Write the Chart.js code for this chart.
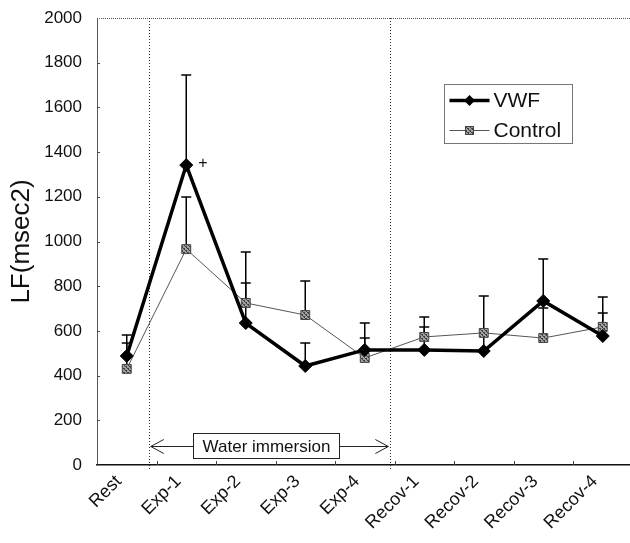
<!DOCTYPE html>
<html>
<head>
<meta charset="utf-8">
<script src="https://cdn.jsdelivr.net/npm/chart.js@4.4.1/dist/chart.umd.min.js"></script>
<style>
  html, body { margin: 0; padding: 0; background: #fff; overflow: hidden; }
  #wrap { width: 640px; height: 543px; }
</style>
</head>
<body>
<div id="wrap"><canvas id="lfChart" width="640" height="543"></canvas></div>
<script>
// values
const phases = ["Rest", "Exp-1", "Exp-2", "Exp-3", "Exp-4", "Recov-1", "Recov-2", "Recov-3", "Recov-4"];
const vwfMean = [488, 1342, 635, 443, 515, 515, 510, 734, 577];
const vwfUpper = [582, 1745, 814, 546, 635, 662, 756, 922, 752];
const controlMean = [430, 966, 725, 671, 479, 573, 591, 568, 618];
const controlUpper = [546, 1199, 953, 823, 568, 618, 591, 702, 680];
const yTicks = [0, 200, 400, 600, 800, 1000, 1200, 1400, 1600, 1800, 2000];

// annotations (category index / value space)
const immersionFrom = 0.37;
const immersionTo = 4.43;
const immersionLabel = "Water immersion";
const immersionLabelAt = [2.34, 87];
const plusMarkAt = [1.28, 1350];

const FONT = "'Liberation Sans', Arial, sans-serif";

// hatched grey fill for the control squares
function makeHatch() {
  const c = document.createElement("canvas");
  c.width = 4; c.height = 4;
  const g = c.getContext("2d");
  g.fillStyle = "#a0a0a0";
  g.fillRect(0, 0, 4, 4);
  g.fillStyle = "#404040";
  for (let i = 0; i < 4; i++) g.fillRect(i, (i + 1) % 4, 1, 1);
  g.fillRect(0, 0, 1, 1);
  g.fillRect(2, 2, 1, 1);
  return g.createPattern(c, "repeat");
}
const hatch = makeHatch();

function errorBars(ctx, xs, ys, means, uppers) {
  means.forEach((m, i) => {
    if (uppers[i] <= m) return;
    const x = xs.getPixelForValue(i);
    const y0 = ys.getPixelForValue(m);
    const y1 = ys.getPixelForValue(uppers[i]);
    ctx.beginPath();
    ctx.moveTo(x, y0);
    ctx.lineTo(x, y1);
    ctx.moveTo(x - 5, y1);
    ctx.lineTo(x + 5, y1);
    ctx.stroke();
  });
}

const decorPlugin = {
  id: "decor",
  beforeDatasetsDraw(chart) {
    const ctx = chart.ctx;
    const xs = chart.scales.x, ys = chart.scales.y;
    const area = chart.chartArea;
    ctx.save();

    // top border
    ctx.strokeStyle = "#555";
    ctx.lineWidth = 1;
    ctx.setLineDash([1, 1]);
    ctx.beginPath();
    ctx.moveTo(area.left, area.top + 0.5);
    ctx.lineTo(area.right, area.top + 0.5);
    ctx.stroke();

    // immersion dotted lines
    ctx.strokeStyle = "#333";
    ctx.setLineDash([1, 2]);
    [immersionFrom, immersionTo].forEach((v) => {
      const x = Math.round(xs.getPixelForValue(v)) + 0.5;
      ctx.beginPath();
      ctx.moveTo(x, area.top);
      ctx.lineTo(x, area.bottom + 6);
      ctx.stroke();
    });
    ctx.setLineDash([]);

    // inward tick marks
    ctx.strokeStyle = "#444";
    yTicks.forEach((v) => {
      if (v === 0 || v === 2000) return;
      const y = Math.round(ys.getPixelForValue(v)) + 0.5;
      ctx.beginPath();
      ctx.moveTo(area.left, y);
      ctx.lineTo(area.left + 3, y);
      ctx.stroke();
    });
    for (let i = 0; i < phases.length - 1; i++) {
      const x = Math.round(xs.getPixelForValue(i + 0.5)) + 0.5;
      ctx.beginPath();
      ctx.moveTo(x, area.bottom);
      ctx.lineTo(x, area.bottom - 4);
      ctx.stroke();
    }

    // error bars (upper only)
    ctx.strokeStyle = "#000";
    ctx.lineWidth = 1.5;
    errorBars(ctx, xs, ys, vwfMean, vwfUpper);
    errorBars(ctx, xs, ys, controlMean, controlUpper);

    // water immersion label with arrows
    ctx.font = "17px " + FONT;
    const cx = xs.getPixelForValue(immersionLabelAt[0]);
    const cy = ys.getPixelForValue(immersionLabelAt[1]);
    const tw = ctx.measureText(immersionLabel).width;
    const bw = tw + 18, bh = 25;
    const bl = Math.round(cx - bw / 2) + 0.5, br = bl + Math.round(bw);
    const bt = Math.round(cy - bh / 2) + 0.5;
    ctx.lineWidth = 1;
    ctx.strokeStyle = "#222";
    ctx.fillStyle = "#fff";
    ctx.fillRect(bl, bt, br - bl, bh);
    ctx.strokeRect(bl, bt, br - bl, bh);
    ctx.fillStyle = "#111";
    ctx.textAlign = "center";
    ctx.textBaseline = "middle";
    ctx.fillText(immersionLabel, (bl + br) / 2, bt + bh / 2 + 1);
    const ay = Math.round(cy) + 0.5;
    const xl = xs.getPixelForValue(immersionFrom) + 2;
    const xr = xs.getPixelForValue(immersionTo) - 2;
    ctx.beginPath();
    ctx.moveTo(xl, ay); ctx.lineTo(bl, ay);
    ctx.moveTo(br, ay); ctx.lineTo(xr, ay);
    ctx.moveTo(xl + 13, ay - 7); ctx.lineTo(xl, ay); ctx.lineTo(xl + 13, ay + 7);
    ctx.moveTo(xr - 13, ay - 7); ctx.lineTo(xr, ay); ctx.lineTo(xr - 13, ay + 7);
    ctx.stroke();

    // significance mark
    ctx.font = "16px " + FONT;
    ctx.fillStyle = "#111";
    ctx.fillText("+", xs.getPixelForValue(plusMarkAt[0]), ys.getPixelForValue(plusMarkAt[1]));

    ctx.restore();
  },
  afterDraw(chart) {
    // legend box drawn from dataset styles
    const ctx = chart.ctx;
    const area = chart.chartArea;
    const lx = area.left + 347.5, ly = area.top + 66.5;
    const w = 128, h = 59;
    ctx.save();
    ctx.fillStyle = "#fff";
    ctx.fillRect(lx, ly, w, h);
    ctx.strokeStyle = "#777";
    ctx.lineWidth = 1;
    ctx.strokeRect(lx, ly, w, h);
    chart.data.datasets.forEach((ds, i) => {
      const y = ly + 16 + i * 30;
      const x0 = lx + 5, x1 = lx + 45, xm = (x0 + x1) / 2;
      ctx.strokeStyle = ds.borderColor;
      ctx.lineWidth = ds.borderWidth;
      ctx.beginPath();
      ctx.moveTo(x0, y); ctx.lineTo(x1, y);
      ctx.stroke();
      ctx.fillStyle = ds.pointBackgroundColor;
      ctx.strokeStyle = ds.pointBorderColor;
      ctx.lineWidth = 1;
      if (ds.pointStyle === "rectRot") {
        ctx.beginPath();
        ctx.moveTo(xm, y - 5.5); ctx.lineTo(xm + 5.5, y);
        ctx.lineTo(xm, y + 5.5); ctx.lineTo(xm - 5.5, y);
        ctx.closePath();
        ctx.fill();
      } else {
        ctx.fillRect(xm - 4, y - 4, 8, 8);
        ctx.strokeRect(xm - 4, y - 4, 8, 8);
      }
      ctx.fillStyle = "#111";
      ctx.font = "21px " + FONT;
      ctx.textAlign = "left";
      ctx.textBaseline = "middle";
      ctx.fillText(ds.label, lx + 49, y + 1);
    });
    ctx.restore();
  },
};

new Chart(document.getElementById("lfChart"), {
  type: "line",
  data: {
    labels: phases,
    datasets: [
      {
        label: "VWF",
        data: vwfMean,
        borderColor: "#000",
        borderWidth: 3.5,
        pointStyle: "rectRot",
        pointRadius: 6.5,
        pointBackgroundColor: "#000",
        pointBorderColor: "#000",
        pointBorderWidth: 1,
        tension: 0,
        order: 1,
      },
      {
        label: "Control",
        data: controlMean,
        borderColor: "#555",
        borderWidth: 1,
        pointStyle: "rect",
        pointRadius: 6.3,
        pointBackgroundColor: hatch,
        pointBorderColor: "#444",
        pointBorderWidth: 1,
        tension: 0,
        order: 2,
      },
    ],
  },
  options: {
    responsive: false,
    animation: false,
    layout: { padding: { left: 0, top: 18, right: 3, bottom: 0 } },
    plugins: { legend: { display: false }, tooltip: { enabled: false } },
    scales: {
      x: {
        type: "category",
        offset: true,
        grid: { display: false, drawTicks: false },
        border: { display: true, color: "#111", width: 1.5 },
        ticks: {
          autoSkip: false,
          minRotation: 45,
          maxRotation: 45,
          padding: 6,
          labelOffset: -8,
          color: "#111",
          font: { family: FONT, size: 18 },
        },
        afterFit: (s) => {
          s.height = 78;
          s.paddingLeft = 0;
          s.paddingRight = 0;
        },
      },
      y: {
        min: 0,
        max: 2000,
        grid: { display: false, drawTicks: false },
        border: { display: true, color: "#555", width: 1, dash: [1, 1] },
        afterBuildTicks: (s) => { s.ticks = yTicks.map((v) => ({ value: v })); },
        ticks: {
          padding: 15,
          color: "#111",
          font: { family: FONT, size: 17 },
          callback: (v) => String(v),
        },
        title: {
          display: true,
          text: "LF(msec2)",
          color: "#111",
          font: { family: FONT, size: 26 },
          padding: { top: 6, bottom: 0 },
        },
        afterFit: (s) => {
          s.width = 97;
          s.paddingTop = 0;
          s.paddingBottom = 0;
        },
      },
    },
  },
  plugins: [decorPlugin],
});
</script>
</body>
</html>
